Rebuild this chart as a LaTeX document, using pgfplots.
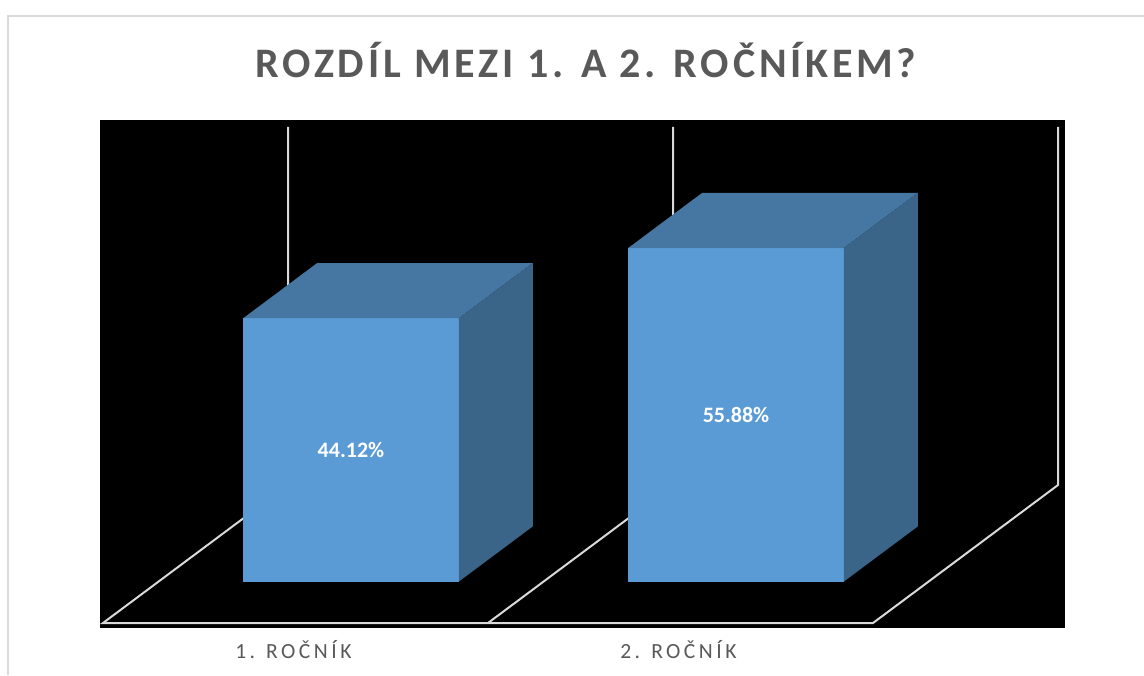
\documentclass[border=0pt]{standalone}
\usepackage{pgfplots}
\pgfplotsset{compat=1.18}
\usepackage{fontspec}
\setmainfont{Carlito}
\newfontfamily\titlefont[LetterSpace=9]{Carlito}
\newfontfamily\tickfont[LetterSpace=16]{Carlito}
\definecolor{txt}{HTML}{595959}
\definecolor{frontc}{HTML}{5B9BD5}
\definecolor{topc}{HTML}{4677A3}
\definecolor{sidec}{HTML}{3A6488}
\definecolor{gridc}{HTML}{D9D9D9}
\begin{document}
\begin{tikzpicture}
\begin{scope}[x=0.5pt,y=-0.5pt]
\fill[white] (0,0) rectangle (1144,675);
\draw[gridc, line width=1pt] (8,675) -- (8,16) -- (1144,16);
\fill[black] (100,120) rectangle (1065,628);
\node[anchor=base, inner sep=0pt, font=\titlefont\bfseries\fontsize{21}{24}\selectfont, text=txt] at (586,77) {ROZDÍL MEZI 1. A 2. ROČNÍKEM?};
\end{scope}
\begin{axis}[
  at={(51.5pt,-311.5pt)}, anchor=origin,
  x={(192.5pt,0pt)}, y={(92.5pt,69pt)}, z={(0pt,2.985pt)},
  xmin=0, xmax=2, ymin=0, ymax=1, zmin=0, zmax=60,
  clip=false,
  axis line style={draw=none},
  xtick={0.5,1.5}, xticklabels={1. ROČNÍK, 2. ROČNÍK},
  ytick=\empty, ztick=\empty,
  major tick length=0pt,
  xticklabel style={font=\tickfont\fontsize{10.8}{12}\selectfont, text=txt, yshift=-5pt, xshift=3pt},
  /pgf/number format/assume math mode=true,
]
% frame lines
\addplot3[gridc, line width=1pt] coordinates {(0,1,60) (0,1,0) (0,0,0) (2,0,0) (2,1,0) (2,1,60)};
\addplot3[gridc, line width=1pt] coordinates {(1,0,0) (1,1,0) (1,1,60)};
% bar 1 (44.12)
\addplot3[fill=frontc, draw=none] coordinates {(0.22,0.3,0) (0.78,0.3,0) (0.78,0.3,44.12) (0.22,0.3,44.12)} -- cycle;
\addplot3[fill=topc, draw=none] coordinates {(0.22,0.3,44.12) (0.78,0.3,44.12) (0.78,0.7,44.12) (0.22,0.7,44.12)} -- cycle;
\addplot3[fill=sidec, draw=none] coordinates {(0.78,0.3,0) (0.78,0.7,0) (0.78,0.7,44.12) (0.78,0.3,44.12)} -- cycle;
% bar 2 (55.88)
\addplot3[fill=frontc, draw=none] coordinates {(1.22,0.3,0) (1.78,0.3,0) (1.78,0.3,55.88) (1.22,0.3,55.88)} -- cycle;
\addplot3[fill=topc, draw=none] coordinates {(1.22,0.3,55.88) (1.78,0.3,55.88) (1.78,0.7,55.88) (1.22,0.7,55.88)} -- cycle;
\addplot3[fill=sidec, draw=none] coordinates {(1.78,0.3,0) (1.78,0.7,0) (1.78,0.7,55.88) (1.78,0.3,55.88)} -- cycle;
% value labels
\addplot3[draw=none, point meta=explicit,
  nodes near coords={\pgfmathprintnumber[fixed,precision=2,fixed zerofill,assume math mode=true]{\pgfplotspointmeta}\%},
  every node near coord/.style={anchor=center, font=\bfseries\fontsize{11}{12}\selectfont, text=white}]
  table[x=x, y expr=0.3, z expr=\thisrow{v}/2, meta=v] {
x v
0.5 44.12
1.5 55.88
};
\end{axis}
\pgfresetboundingbox
\path[use as bounding box] (0,0) rectangle (572pt,-337.5pt);
\end{tikzpicture}
\end{document}
